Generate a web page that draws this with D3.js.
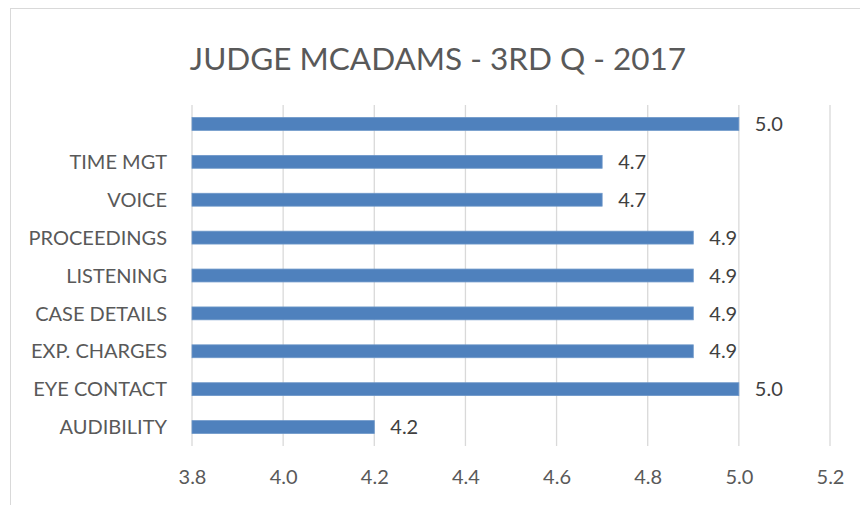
<!DOCTYPE html>
<html>
<head>
<meta charset="utf-8">
<script src="https://cdn.jsdelivr.net/npm/d3@7"></script>
<style>
body { margin: 0; background: #fff; }
</style>
</head>
<body>
<div id="chart"></div>
<script>
// categories listed bottom to top, as in the picture
var categories = ["AUDIBILITY", "EYE CONTACT", "EXP. CHARGES", "CASE DETAILS", "LISTENING", "PROCEEDINGS", "VOICE", "TIME MGT", ""];
var scores = [4.2, 5.0, 4.9, 4.9, 4.9, 4.9, 4.7, 4.7, 5.0];
var xTicks = [3.8, 4.0, 4.2, 4.4, 4.6, 4.8, 5.0, 5.2];

var W = 860, H = 505;
var svg = d3.select("#chart").append("svg")
  .attr("width", W)
  .attr("height", H);

// chart border
svg.append("rect")
  .attr("x", 10.5).attr("y", 8.5)
  .attr("width", 860).attr("height", 520)
  .attr("fill", "none")
  .attr("stroke", "#d9d9d9");

svg.append("text")
  .attr("x", 438).attr("y", 70)
  .attr("text-anchor", "middle")
  .attr("font-family", "Lato, 'Open Sans', sans-serif")
  .attr("font-size", 31.5)
  .attr("fill", "#595959")
  .text("JUDGE MCADAMS - 3RD Q - 2017");

var x = d3.scaleLinear().domain([3.8, 5.2]).range([192, 830]);
var y = d3.scaleBand().domain(categories.slice().reverse()).range([105, 446]).paddingInner(0.66).paddingOuter(0.33);

// grid lines
svg.selectAll("line.grid")
  .data(xTicks)
  .enter().append("line")
  .attr("class", "grid")
  .attr("x1", function(d) { return x(d); })
  .attr("x2", function(d) { return x(d); })
  .attr("y1", 105).attr("y2", 446)
  .attr("stroke", "#d9d9d9")
  .attr("stroke-width", 1.3);

svg.selectAll("rect.bar")
  .data(scores)
  .enter().append("rect")
  .attr("class", "bar")
  .attr("x", x(3.8))
  .attr("y", function(d, i) { return y(categories[i]); })
  .attr("width", function(d) { return x(d) - x(3.8); })
  .attr("height", y.bandwidth())
  .attr("fill", "#4f81bd")
  .attr("stroke", "#6d97c9")
  .attr("stroke-width", 0.8);

svg.selectAll("text.val")
  .data(scores)
  .enter().append("text")
  .attr("class", "val")
  .attr("x", function(d) { return x(d) + 16; })
  .attr("y", function(d, i) { return y(categories[i]) + y.bandwidth() / 2; })
  .attr("dy", "0.36em")
  .attr("font-family", "Lato, 'Open Sans', sans-serif")
  .attr("font-size", 20)
  .attr("fill", "#404040")
  .text(function(d) { return d.toFixed(1); });

// category axis labels
var yAxis = svg.append("g")
  .attr("transform", "translate(" + 167 + ",0)")
  .call(d3.axisLeft(y).tickSize(0).tickPadding(0));
yAxis.select(".domain").remove();
yAxis.selectAll("text")
  .attr("font-family", "Lato, 'Open Sans', sans-serif")
  .attr("font-size", 20)
  .attr("dy", "0.36em")
  .attr("fill", "#595959");

// value axis labels
var xAxis = svg.append("g")
  .attr("transform", "translate(0," + 470 + ")")
  .call(d3.axisBottom(x).tickValues(xTicks).tickFormat(d3.format(".1f")).tickSize(0).tickPadding(0));
xAxis.select(".domain").remove();
xAxis.selectAll("text")
  .attr("font-family", "Lato, 'Open Sans', sans-serif")
  .attr("font-size", 20)
  .attr("fill", "#595959");
</script>
</body>
</html>
